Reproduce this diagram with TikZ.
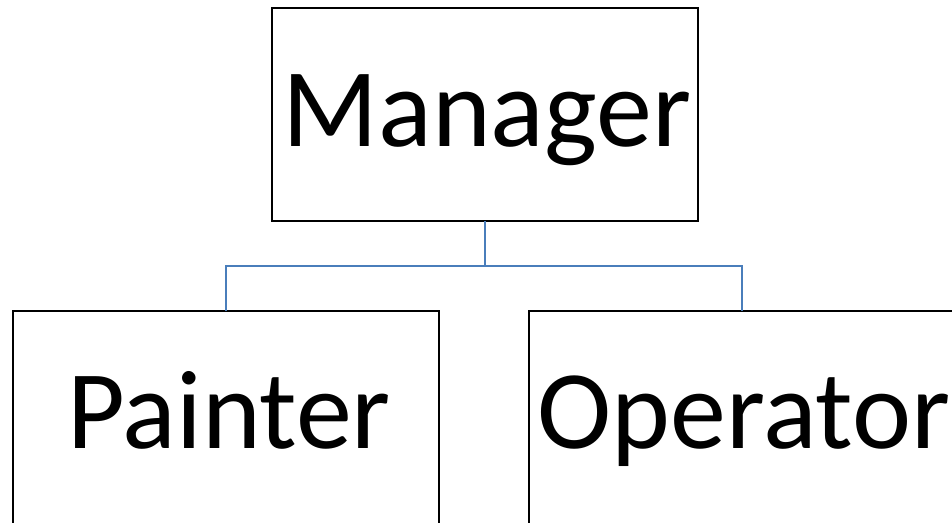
\documentclass[tikz,border=0pt]{standalone}
\usepackage{fontspec}
\setmainfont{Carlito}
\begin{document}
\begin{tikzpicture}[x=1pt,y=1pt,
  box/.style={draw=black,line width=2pt,rectangle,minimum width=426pt,minimum height=213pt,inner sep=0pt,outer sep=0pt},
  lbl/.style={anchor=base,inner sep=0pt,font=\fontsize{112}{130}\selectfont},
  conn/.style={draw={rgb,255:red,74;green,126;blue,187},line width=2pt}]
\useasboundingbox (0,0) rectangle (952,522);
\node[box] (m) at (484.5,407.5) {};
\node[box] (p) at (226,104.5) {};
\node[box] (o) at (742,104.5) {};
\node[lbl] (mt) at (487,375) {Manager};
\node[lbl] (pt) at (229,74) {Painter};
\node[lbl] (ot) at (744,74) {Operator};
\draw[conn] (m.south) -- ++(0,-45) -| (p.north);
\draw[conn] (m.south) ++(0,-45) -| (o.north);
\end{tikzpicture}
\end{document}
